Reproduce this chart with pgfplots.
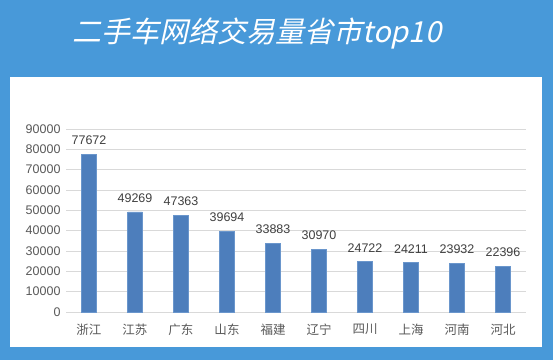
\documentclass[border=0pt]{standalone}
\usepackage{fontspec}
\setmainfont{Liberation Sans}
\newfontfamily\cjk{Noto Sans CJK SC}
\newfontfamily\cjktitle[FakeSlant=0.22]{Noto Sans CJK SC}
\usepackage{pgfplots}
\pgfplotsset{compat=1.18}
\definecolor{bgblue}{HTML}{4899D9}
\definecolor{barblue}{HTML}{4D7EBC}
\definecolor{baredge}{HTML}{6A96CC}
\definecolor{ticktext}{HTML}{595959}
\definecolor{valtext}{HTML}{404040}
\definecolor{gridc}{HTML}{D9D9D9}
\begin{document}
\begin{tikzpicture}[x=1pt,y=1pt]
\fill[bgblue] (0,0) rectangle (553,360);
\fill[white] (10,13) rectangle (542,283);
\node[white, font=\cjktitle\fontsize{29}{31}\selectfont] at (257,327) {二手车网络交易量省市top10};
\begin{axis}[
  at={(66pt,48pt)}, anchor=south west,
  scale only axis, width=460pt, height=183pt,
  xmin=-0.5, xmax=9.5, ymin=0, ymax=90000,
  ybar, bar width=14.5pt,
  xtick=data,
  xticklabels={浙江,江苏,广东,山东,福建,辽宁,四川,上海,河南,河北},
  ytick={0,10000,20000,30000,40000,50000,60000,70000,80000,90000},
  scaled y ticks=false,
  /pgf/number format/.cd, fixed, precision=0, 1000 sep={}, assume math mode=true,
  /pgfplots/.cd,
  axis line style={draw=none},
  tick style={draw=none},
  ymajorgrids, major grid style={gridc, line width=0.8pt},
  yticklabel style={font=\fontsize{12.5}{14}\selectfont, text=ticktext, xshift=-2pt},
  xticklabel style={font=\cjk\fontsize{12.5}{14}\selectfont, text=ticktext, yshift=-4pt},
  nodes near coords,
  every node near coord/.append style={font=\fontsize{12.5}{14}\selectfont, text=valtext, yshift=6pt},
]
\addplot[fill=barblue, draw=baredge, line width=0.6pt] coordinates {
(0,77672) (1,49269) (2,47363) (3,39694) (4,33883) (5,30970) (6,24722) (7,24211) (8,23932) (9,22396)};
\end{axis}
\end{tikzpicture}
\end{document}
